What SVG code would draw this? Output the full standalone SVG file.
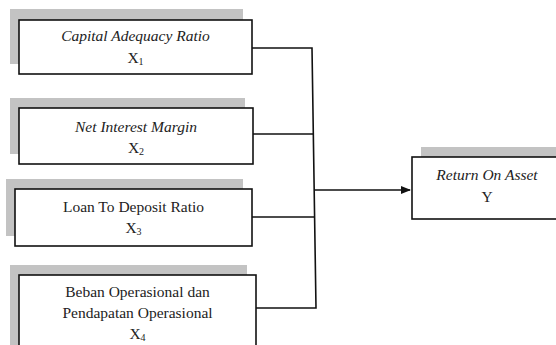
<svg xmlns="http://www.w3.org/2000/svg" width="556" height="345" viewBox="0 0 556 345">
  <style>
    .shadow { fill: #c3c3c3; }
    .box { fill: #ffffff; stroke: #111; stroke-width: 1.6; }
    text { font-family: "Times New Roman", Tinos, "Liberation Serif", "DejaVu Serif", serif; font-size: 15.5px; fill: #222; text-anchor: middle; }
    .it { font-style: italic; }
    .sub { font-size: 10px; }
    .wire { fill: none; stroke: #111; stroke-width: 1.6; }
  </style>
  <defs>
    <marker id="arrow" markerWidth="10" markerHeight="8" refX="9" refY="4" orient="auto" markerUnits="userSpaceOnUse">
      <path d="M0,0 L10,4 L0,8 Z" fill="#111"/>
    </marker>
  </defs>
  <rect width="556" height="345" fill="#ffffff"/>

  <g id="node-x1">
    <rect class="shadow" x="10" y="9" width="233" height="55"/>
    <rect class="box" x="19" y="20" width="233" height="54"/>
    <text class="it" x="135.5" y="41">Capital Adequacy Ratio</text>
    <text x="135.5" y="63">X<tspan class="sub" dy="2">1</tspan></text>
  </g>

  <g id="node-x2">
    <rect class="shadow" x="10" y="98" width="235" height="56"/>
    <rect class="box" x="19" y="108" width="234" height="56"/>
    <text class="it" x="136" y="132">Net Interest Margin</text>
    <text x="136" y="153">X<tspan class="sub" dy="2">2</tspan></text>
  </g>

  <g id="node-x3">
    <rect class="shadow" x="6" y="179" width="237" height="57"/>
    <rect class="box" x="15" y="189" width="237" height="57"/>
    <text x="133.5" y="212">Loan To Deposit Ratio</text>
    <text x="133.5" y="233">X<tspan class="sub" dy="2">3</tspan></text>
  </g>

  <g id="node-x4">
    <rect class="shadow" x="10" y="265" width="237" height="85"/>
    <rect class="box" x="19" y="275" width="237" height="80"/>
    <text x="137.5" y="297">Beban Operasional dan</text>
    <text x="137.5" y="318">Pendapatan Operasional</text>
    <text x="137.5" y="339">X<tspan class="sub" dy="2">4</tspan></text>
  </g>

  <g id="node-y">
    <rect class="shadow" x="421" y="147" width="140" height="12"/>
    <rect class="box" x="412" y="157" width="150" height="62"/>
    <text class="it" x="487" y="180">Return On Asset</text>
    <text x="487" y="202">Y</text>
  </g>

  <g id="connectors">
    <polyline class="wire" points="252,48 312,48 316,308 256,308"/>
    <line class="wire" x1="253" y1="134" x2="313" y2="134"/>
    <line class="wire" x1="252" y1="217" x2="314" y2="217"/>
    <line class="wire" x1="314" y1="190" x2="410" y2="190" marker-end="url(#arrow)"/>
  </g>
</svg>
